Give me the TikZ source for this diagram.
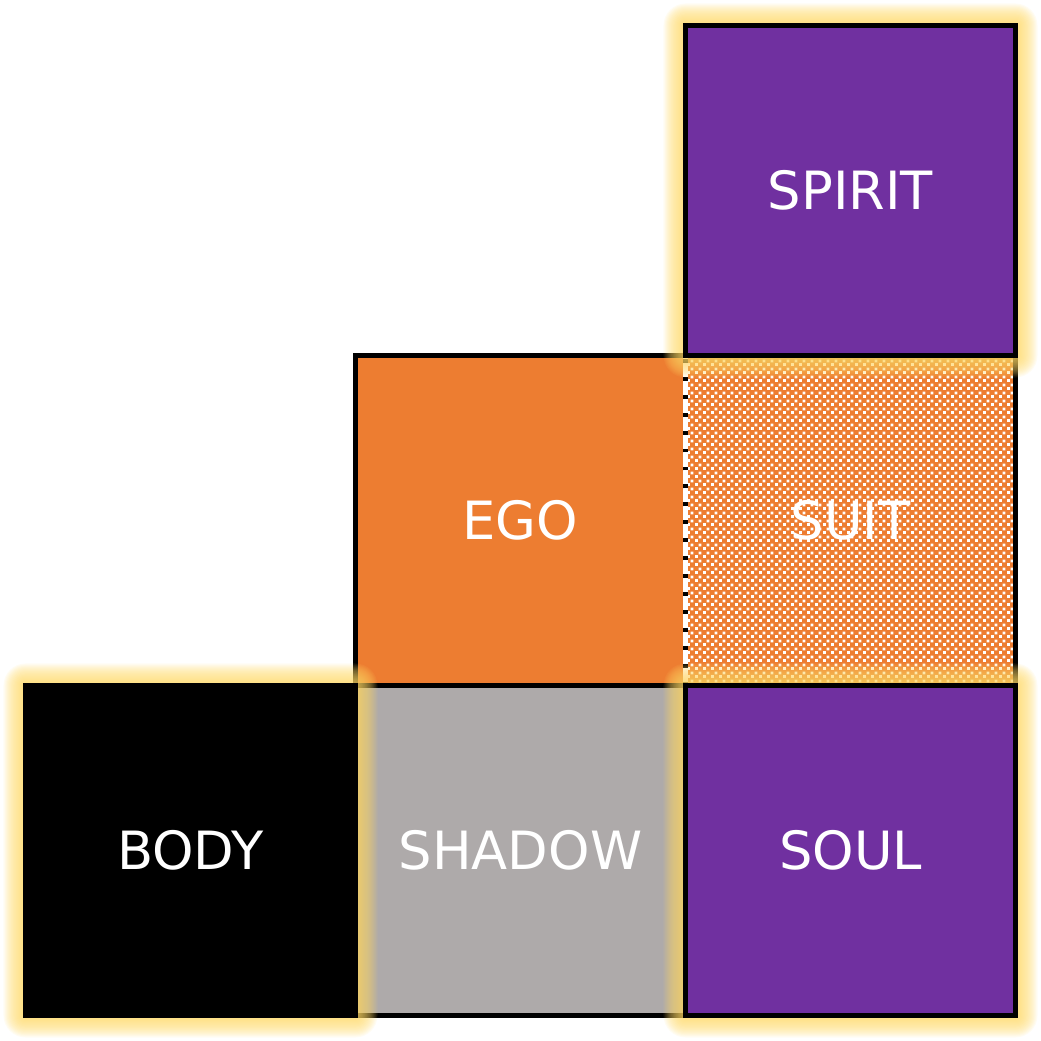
\documentclass[tikz,border=0pt]{standalone}
\usepackage{fontspec}
\setmainfont{DejaVu Sans}
\usetikzlibrary{patterns.meta}

\definecolor{soulpurple}{HTML}{7030A0}
\definecolor{egoorange}{HTML}{ED7D31}
\definecolor{shadowgray}{HTML}{AEAAAA}
\definecolor{glowgold}{HTML}{FFD966}

\tikzdeclarepattern{
  name=suitchecks,
  type=uncolored,
  bottom left={(0pt,0pt)},
  top right={(2.3pt,2.3pt)},
  tile size={(2.3pt,2.3pt)},
  code={
    \fill (0pt,0pt) rectangle (0.9pt,0.9pt);
    \fill (1.15pt,1.15pt) rectangle (2.05pt,2.05pt);
  }
}

\tikzset{
  cell/.style={draw=black, line width=0.05cm},
  glow/.style={fill=glowgold, opacity=0.08},
  word/.style={text=white, font=\fontsize{15}{18}\selectfont}
}

% soft yellow halo round one square
\newcommand{\glowbox}[4]{%
  \foreach \r in {0.011,0.022,...,0.221}
    \fill [glow, rounded corners=\r cm] ({#1-\r},{#2-\r}) rectangle ({#3+\r},{#4+\r});
}

\begin{document}
\begin{tikzpicture}
  \useasboundingbox (0,0) rectangle (10.41,10.41);

  % squares without halo
  \filldraw [cell, fill=egoorange] (3.555,3.555) rectangle (6.855,6.855);
  \fill [egoorange] (6.855,3.555) rectangle (10.155,6.855);
  \fill [pattern=suitchecks, pattern color=white] (6.855,3.555) rectangle (10.155,6.855);
  \draw [cell] (6.855,3.555) rectangle (10.155,6.855);
  \draw [white, line width=0.05cm] (6.855,3.555) -- (6.855,6.855);
  \draw [black, line width=0.05cm, dash pattern=on 1.1pt off 4pt] (6.855,3.555) -- (6.855,6.855);
  \filldraw [cell, fill=shadowgray] (3.555,0.255) rectangle (6.855,3.555);

  \glowbox{0.255}{0.255}{3.555}{3.555}
  \glowbox{6.855}{0.255}{10.155}{3.555}
  \glowbox{6.855}{6.855}{10.155}{10.155}

  % squares with halo
  \filldraw [cell, fill=black] (0.255,0.255) rectangle (3.555,3.555);
  \filldraw [cell, fill=soulpurple] (6.855,0.255) rectangle (10.155,3.555);
  \filldraw [cell, fill=soulpurple] (6.855,6.855) rectangle (10.155,10.155);

  \node [word] (body) at (1.905,1.905) {BODY};
  \node [word] (shadow) at (5.205,1.905) {SHADOW};
  \node [word] (soul) at (8.505,1.905) {SOUL};
  \node [word] (ego) at (5.205,5.205) {EGO};
  \node [word] (suit) at (8.505,5.205) {SUIT};
  \node [word] (spirit) at (8.505,8.505) {SPIRIT};
\end{tikzpicture}
\end{document}
